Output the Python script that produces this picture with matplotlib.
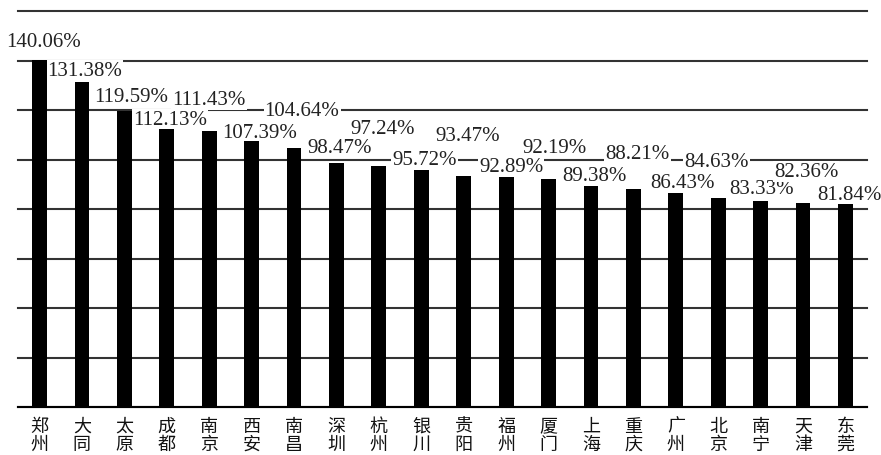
import numpy as np
import matplotlib
matplotlib.use('Agg')
import matplotlib.pyplot as plt

# data
cities = ['郑州', '大同', '太原', '成都', '南京', '西安', '南昌', '深圳', '杭州', '银川',
          '贵阳', '福州', '厦门', '上海', '重庆', '广州', '北京', '南宁', '天津', '东莞']
values = [140.06, 131.38, 119.59, 112.13, 111.43, 107.39, 104.64, 98.47, 97.24, 95.72,
          93.47, 92.89, 92.19, 89.38, 88.21, 86.43, 84.63, 83.33, 82.36, 81.84]
yticks = [0, 20, 40, 60, 80, 100, 120, 140, 160]

# label offsets from bar top (pixels), as placed in the original figure
lab_dx = [4, 3, 7, 3, 0, 8, 8, 3, 4, 3, 4, 5, 6, 3, 4, 7, -2, 1, 3, 4]
lab_dy = [19, 11, 15, 10, 32, 9, 38, 16, 38, 11, 40, 11, 31, 10, 35, 11, 36, 12, 32, 10]

fig = plt.figure(figsize=(8.81, 4.56), dpi=100)
ax = fig.add_axes([18.3 / 881, 48 / 456, (866.7 - 18.3) / 881, 396 / 456])

x = np.arange(len(cities))
ax.bar(x, values, width=0.35, color='black', zorder=4)

ax.set_xlim(-0.5, len(cities) - 0.5)
ax.set_ylim(0, 160)
ax.set_yticks(yticks)
ax.yaxis.grid(True, color='#333333', linewidth=1.5, zorder=0)
for gl in ax.get_ygridlines():
    gl.set_clip_on(False)
ax.set_axisbelow(True)
ax.tick_params(axis='y', length=0, labelleft=False)
ax.tick_params(axis='x', length=0, pad=7)
ax.set_xticks(x)
ax.set_xticklabels(['\n'.join(c) for c in cities], fontfamily='Noto Sans CJK SC',
                   fontsize=13, linespacing=1.02, color='#111111')
for s in ['top', 'right', 'left']:
    ax.spines[s].set_visible(False)
ax.spines['bottom'].set_linewidth(1.5)
ax.spines['bottom'].set_zorder(5)

for i, v in enumerate(values):
    ax.annotate(f'{v:.2f}%', (i, v), xytext=(lab_dx[i] * 0.72, lab_dy[i] * 0.72),
                textcoords='offset points', ha='center', va='center',
                fontfamily='Liberation Serif', fontsize=15, color='#222222', zorder=3,
                bbox=dict(boxstyle='square,pad=0.05', fc='white', ec='none'))

fig.savefig('out.png', dpi=100)
